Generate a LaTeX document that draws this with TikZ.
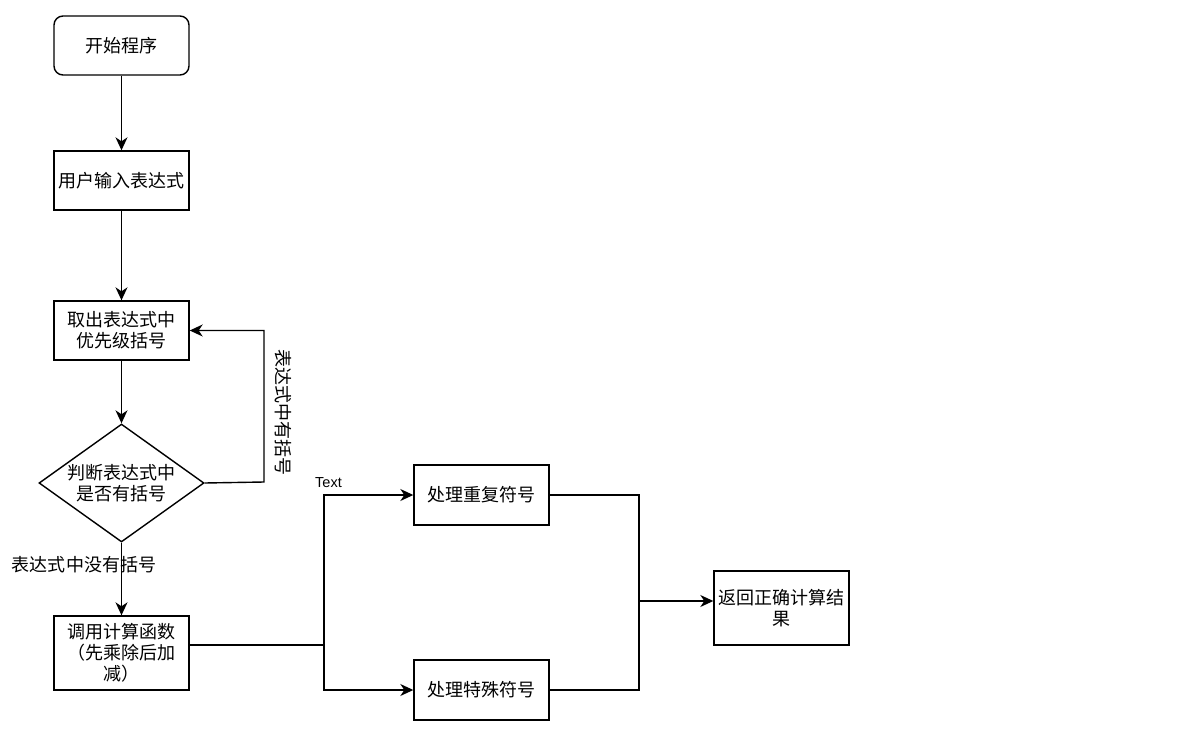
\documentclass[tikz,border=0pt]{standalone}
\usepackage{fontspec}
\setmainfont{Noto Sans CJK SC}
\newfontfamily\latinfont{Liberation Sans}
\usetikzlibrary{shapes.geometric,arrows.meta}
\begin{document}
\begin{tikzpicture}[x=1pt,y=-1pt,
  font=\fontsize{18}{21}\selectfont,
  line width=1.4pt,
  box/.style={draw, line width=1.4pt, minimum width=135pt, minimum height=59pt, inner sep=1pt, align=center},
  startbox/.style={box, rounded corners=9pt},
  decision/.style={draw, diamond, line width=1.4pt, minimum width=165pt, minimum height=118pt, inner sep=0pt, aspect=1.4, align=center},
  arr/.style={-{Stealth[length=13pt,width=12pt,inset=4pt]}},
  lbl/.style={inner sep=0pt},
  smalllbl/.style={inner sep=0pt, font=\latinfont\fontsize{14.5}{16}\selectfont}
]
\useasboundingbox (0,0) rectangle (1196,738);

\node[startbox] (start) at (121.5,45.5) {开始程序};
\node[box] (input) at (121.5,180.5) {用户输入表达式};
\node[box] (take) at (121.5,330.5) {取出表达式中\\优先级括号};
\node[decision] (dec) at (121.5,483) {判断表达式中\\是否有括号};
\node[box, minimum height=74pt] (call) at (121.5,653) {调用计算函数\\（先乘除后加\\减）};
\node[box, minimum height=60pt] (rep) at (481.5,495) {处理重复符号};
\node[box, minimum height=60pt] (spec) at (481.5,690) {处理特殊符号};
\node[box, minimum height=74pt] (res) at (781.5,608) {返回正确计算结\\果};

\coordinate (loopA) at (264,482);
\coordinate (loopB) at (264,330.5);
\coordinate (split) at (324,645);
\coordinate (splitT) at (324,495);
\coordinate (splitB) at (324,690);
\coordinate (mergeT) at (639,495);
\coordinate (mergeB) at (639,690);
\coordinate (merge) at (639,601);

\draw[arr] (start) -- (input);
\draw[arr] (input) -- (take);
\draw[arr] (take) -- (dec);
\draw[arr] (dec.east) -- (loopA) -- (loopB) -- (take.east);
\draw[arr] (dec.south) -- (call.north);
\draw (call.east |- split) -- (split);
\draw[arr] (split) -- (splitT) -- (rep.west);
\draw[arr] (split) -- (splitB) -- (spec.west);
\draw (rep.east) -- (mergeT) -- (mergeB) -- (spec.east);
\draw[arr] (merge) -- (res.west |- merge);

\node[lbl, rotate=-90] (lblyes) at (283,412) {表达式中有括号};
\node[lbl] (lblno) at (84,565) {表达式中没有括号};
\node[smalllbl] (lbltext) at (328.5,483) {Text};
\end{tikzpicture}
\end{document}
